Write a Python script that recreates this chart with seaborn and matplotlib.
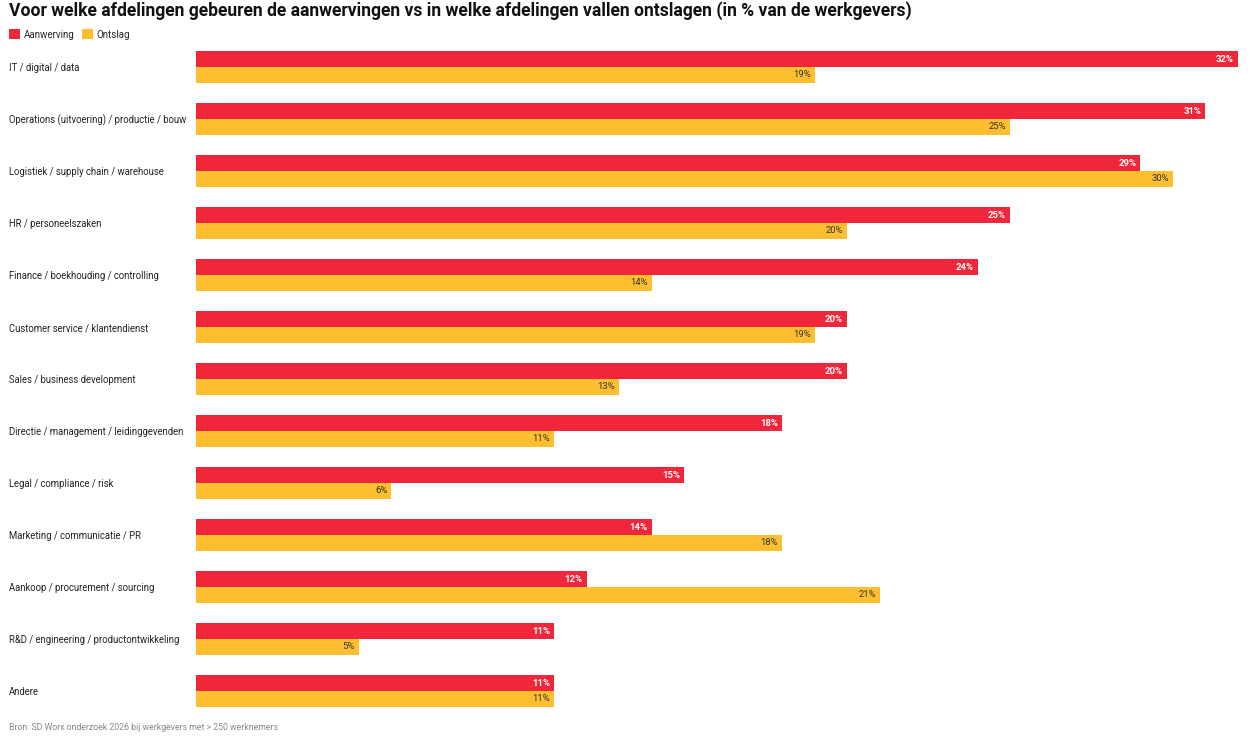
import matplotlib
matplotlib.use("Agg")
import matplotlib.pyplot as plt
import seaborn as sns
import pandas as pd
from matplotlib.patches import Patch

categories = [
    "IT / digital / data",
    "Operations (uitvoering) / productie / bouw",
    "Logistiek / supply chain / warehouse",
    "HR / personeelszaken",
    "Finance / boekhouding / controlling",
    "Customer service / klantendienst",
    "Sales / business development",
    "Directie / management / leidinggevenden",
    "Legal / compliance / risk",
    "Marketing / communicatie / PR",
    "Aankoop / procurement / sourcing",
    "R&D / engineering / productontwikkeling",
    "Andere",
]
aanwerving = [32, 31, 29, 25, 24, 20, 20, 18, 15, 14, 12, 11, 11]
ontslag = [19, 25, 30, 20, 14, 19, 13, 11, 6, 18, 21, 5, 11]
series = ["Aanwerving", "Ontslag"]
colors = {"Aanwerving": "#F0263A", "Ontslag": "#FDBF30"}
label_colors = {"Aanwerving": "white", "Ontslag": "#333333"}

title = "Voor welke afdelingen gebeuren de aanwervingen vs in welke afdelingen vallen ontslagen (in % van de werkgevers)"
source = "Bron: SD Worx onderzoek 2026 bij werkgevers met > 250 werknemers"

df = pd.DataFrame({
    "Afdeling": categories * 2,
    "Reeks": [series[0]] * len(categories) + [series[1]] * len(categories),
    "Waarde": aanwerving + ontslag,
})

sns.set_theme(style="white")
plt.rcParams["font.family"] = ["Roboto", "DejaVu Sans"]

W, H = 1250, 738
fig = plt.figure(figsize=(W / 100, H / 100), dpi=100)
ax = fig.add_axes([196 / W, 1 - 717 / H, (1238 - 196) / W, (717 - 41) / H])

sns.barplot(data=df, y="Afdeling", x="Waarde", hue="Reeks", orient="h",
            palette=colors, width=0.615, ax=ax, legend=False,
            saturation=1, linewidth=0)

ax.set_xlim(0, 32)
ax.set_ylim(len(categories) - 0.5, -0.5)
ax.set_xlabel("")
ax.set_ylabel("")
ax.set_xticks([])
for s in ax.spines.values():
    s.set_visible(False)

ax.tick_params(axis="y", length=0, pad=(196 - 9) * 0.72, labelsize=6.85, labelcolor="#222222")
for lbl in ax.get_yticklabels():
    lbl.set_horizontalalignment("left")

for cont, name in zip(ax.containers, series):
    for p in cont:
        w = p.get_width()
        ax.annotate(f"{w:.0f}%", (w, p.get_y() + p.get_height() / 2),
                    xytext=(-3, 0), textcoords="offset points",
                    ha="right", va="center", fontsize=6.8,
                    color=label_colors[name],
                    fontweight="bold" if name == "Aanwerving" else "normal")

fig.text(9 / W, 1 - 11 / H, title, fontsize=12.65, fontweight="bold",
         ha="left", va="center", color="#111111")

handles = [Patch(facecolor=colors[s], edgecolor="none") for s in series]
fig.legend(handles, series, loc="center left", bbox_to_anchor=(7 / W, 1 - 34.5 / H),
           ncol=2, frameon=False, fontsize=7, handlelength=1.15, handleheight=1.15,
           handletextpad=0.35, columnspacing=0.8, borderaxespad=0, borderpad=0.2)

fig.text(9 / W, 1 - 728 / H, source, fontsize=6.3, color="#888888",
         ha="left", va="center")

fig.savefig("out.png", dpi=100)
